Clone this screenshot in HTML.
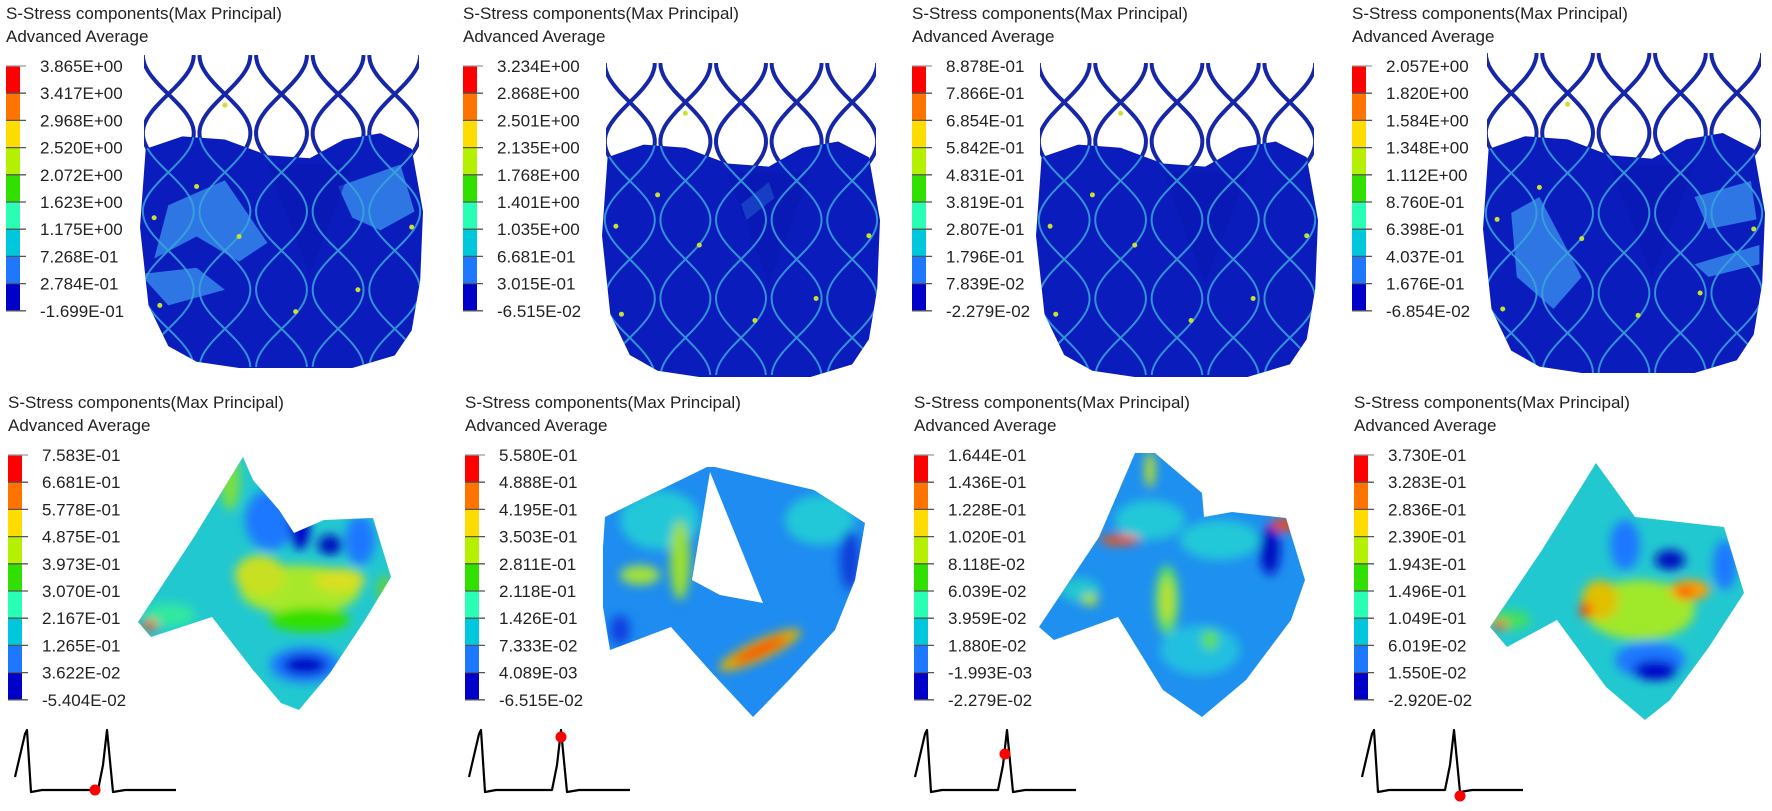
<!DOCTYPE html>
<html><head><meta charset="utf-8">
<style>
html,body{margin:0;padding:0;background:#fff;}
body{width:1772px;height:811px;overflow:hidden;position:relative;}
svg{position:absolute;left:0;top:0;}
text{font-family:"Liberation Sans","DejaVu Sans",sans-serif;fill:#222;}
</style></head><body>
<svg id="s" width="1772" height="811" viewBox="0 0 1772 811" xmlns="http://www.w3.org/2000/svg"></svg>
<script>
(function(){
var S=document.getElementById('s');var h='<defs><filter id="bl" x="-20%" y="-20%" width="140%" height="140%"><feGaussianBlur stdDeviation="5"/></filter></defs>';
var cols=['#ff0000','#ff7300','#ffdc00','#b4f000','#32e000','#28ffb4','#00c8dc','#1e78ff','#0000c8'];
function legend(x,y,labels){
 h+='<text x="'+x+'" y="'+(y-47)+'" font-size="17">S-Stress components(Max Principal)</text>';
 h+='<text x="'+x+'" y="'+(y-24)+'" font-size="17">Advanced Average</text>';
 var sp=27.2;
 for(var i=0;i<9;i++) h+='<rect x="'+x+'" y="'+(y+i*sp)+'" width="14" height="'+sp+'" fill="'+cols[i]+'"/>';
 for(var i=0;i<10;i++){
  h+='<line x1="'+x+'" x2="'+(x+20)+'" y1="'+(y+i*sp)+'" y2="'+(y+i*sp)+'" stroke="'+(i==0?'#999':'#555')+'" stroke-width="1.3"/>';
  h+='<text x="'+(x+34)+'" y="'+(y+i*sp+6)+'" font-size="17">'+labels[i]+'</text>';
 }
}
function P(x0,y0,w,hh,pts){return pts.map(function(p){return (x0+p[0]*w).toFixed(1)+','+(y0+p[1]*hh).toFixed(1);}).join(' ');}
var sid=0;
function stent(x0,y0,w,hh,patches){
 sid++;
 var b=[[.02,.3],[.15,.26],[.3,.27],[.45,.32],[.6,.33],[.72,.27],[.85,.25],[.96,.3],[1,.5],[.99,.72],[.96,.88],[.9,.96],[.75,1],[.35,1],[.2,.98],[.1,.93],[.03,.8],[0,.55]];
 var dark='',light='';
 var A=w*0.09, Pd=hh*0.5;
 for(var k=0;k<5;k++){
  var xc=x0+w*0.1+k*w*0.2;
  for(var s=-1;s<=1;s+=2){
   var pts=[];
   for(var yy=0;yy<=hh;yy+=4){pts.push((xc+s*A*Math.sin(2*Math.PI*(yy+Pd*0.25)/Pd)).toFixed(1)+','+(y0+yy).toFixed(1));}
   dark+='<polyline points="'+pts.join(' ')+'" fill="none" stroke="#1626a8" stroke-width="4"/>';
   light+='<polyline points="'+pts.join(' ')+'" fill="none" stroke="#3aa6dc" stroke-width="2"/>';
  }
 }
 h+='<clipPath id="so'+sid+'"><rect x="'+(x0+4)+'" y="'+y0+'" width="'+(w-8)+'" height="'+(hh*0.35)+'"/></clipPath>';
 h+='<g clip-path="url(#so'+sid+')">'+dark+'</g>';
 h+='<polygon points="'+P(x0,y0,w,hh,b)+'" fill="#0a1cbc"/>';
 h+='<clipPath id="sb'+sid+'"><polygon points="'+P(x0,y0,w,hh,b)+'"/></clipPath>';
 var g='';
 patches.forEach(function(p){g+='<polygon points="'+P(x0,y0,w,hh,p)+'" fill="#2d76e4"/>';});
 g+='<polygon points="'+P(x0,y0,w,hh,[[.45,.35],[.75,.35],[.6,.7]])+'" fill="#0818b0" opacity=".6"/>';
 h+='<g clip-path="url(#sb'+sid+')">'+g+'<g opacity=".85">'+light+'</g></g>';
 [[.05,.52],[.2,.42],[.35,.58],[.55,.82],[.77,.75],[.96,.55],[.3,.16],[.07,.8]].forEach(function(p){h+='<circle cx="'+(x0+p[0]*w)+'" cy="'+(y0+p[1]*hh)+'" r="2.5" fill="#c8e030"/>';});
}
function poly(pts){return pts.map(function(p){return p[0]+','+p[1];}).join(' ');}
var lid=0;
function leaf(outline,base,blobs,hole){
 lid++;
 h+='<clipPath id="lf'+lid+'"><polygon points="'+poly(outline)+'"/></clipPath>';
 var g='<rect x="0" y="430" width="1772" height="300" fill="'+base+'"/><g filter="url(#bl)">';
 blobs.forEach(function(o){g+='<ellipse cx="'+o[0]+'" cy="'+o[1]+'" rx="'+o[2]+'" ry="'+o[3]+'" fill="'+o[4]+'"'+(o[5]?' transform="rotate('+o[5]+' '+o[0]+' '+o[1]+')"':'')+'/>';});
 g+='</g>';
 h+='<g clip-path="url(#lf'+lid+')">'+g+'</g>';
 if(hole) h+='<polygon points="'+poly(hole)+'" fill="#fff"/>';
}
function ecg(x0,y0,dot){
 var pts=[[0,47],[10,4],[12,0],[16,62],[27,60],[83,60],[88,35],[92,0],[98,62],[110,60],[161,60]];
 h+='<polyline points="'+pts.map(function(p){return (x0+p[0])+','+(y0+p[1]);}).join(' ')+'" fill="none" stroke="#000" stroke-width="2.2" stroke-linejoin="round"/>';
 h+='<circle cx="'+(x0+dot[0])+'" cy="'+(y0+dot[1])+'" r="5.5" fill="#f00"/>';
}
var xs=[6,463,912,1352];
var TL=[["3.865E+00","3.417E+00","2.968E+00","2.520E+00","2.072E+00","1.623E+00","1.175E+00","7.268E-01","2.784E-01","-1.699E-01"],
["3.234E+00","2.868E+00","2.501E+00","2.135E+00","1.768E+00","1.401E+00","1.035E+00","6.681E-01","3.015E-01","-6.515E-02"],
["8.878E-01","7.866E-01","6.854E-01","5.842E-01","4.831E-01","3.819E-01","2.807E-01","1.796E-01","7.839E-02","-2.279E-02"],
["2.057E+00","1.820E+00","1.584E+00","1.348E+00","1.112E+00","8.760E-01","6.398E-01","4.037E-01","1.676E-01","-6.854E-02"]];
var BL=[["7.583E-01","6.681E-01","5.778E-01","4.875E-01","3.973E-01","3.070E-01","2.167E-01","1.265E-01","3.622E-02","-5.404E-02"],
["5.580E-01","4.888E-01","4.195E-01","3.503E-01","2.811E-01","2.118E-01","1.426E-01","7.333E-02","4.089E-03","-6.515E-02"],
["1.644E-01","1.436E-01","1.228E-01","1.020E-01","8.118E-02","6.039E-02","3.959E-02","1.880E-02","-1.993E-03","-2.279E-02"],
["3.730E-01","3.283E-01","2.836E-01","2.390E-01","1.943E-01","1.496E-01","1.049E-01","6.019E-02","1.550E-02","-2.920E-02"]];
var patchA=[[[.1,.48],[.3,.4],[.45,.6],[.35,.66],[.2,.58],[.05,.65]],[[.7,.42],[.92,.35],[.97,.5],[.85,.56],[.75,.52]],[[.0,.7],[.2,.68],[.3,.75],[.1,.8]]];
var patchB=[[[.5,.45],[.6,.38],[.62,.43],[.52,.5]]];
var patchD=[[[.1,.5],[.2,.45],[.35,.7],[.25,.8],[.12,.7]],[[.75,.45],[.95,.4],[.97,.52],[.8,.55]],[[.75,.66],[.98,.6],[.98,.66],[.8,.7]]];
var stents=[[140,55,283,313,patchA],[602,63,278,314,patchB],[1036,63,282,314,[]],[1483,53,282,320,patchD]];
var ecgx=[15,469,915,1362];
var dots=[[80,60],[92,7],[90,24],[98,66]];
for(var c=0;c<4;c++){
 legend(xs[c],66,TL[c]);
 legend(xs[c]+2,455,BL[c]);
 stent(stents[c][0],stents[c][1],stents[c][2],stents[c][3],stents[c][4]);
 ecg(ecgx[c],730,dots[c]);
}
leaf([[138,622],[194,537],[243,457],[253,480],[279,510],[294,533],[324,520],[373,518],[391,577],[365,620],[330,673],[299,710],[281,703],[253,670],[212,617],[151,637]],'#22c8d0',
 [[300,590,60,25,'#a8e82a'],[260,575,25,20,'#c8e020'],[340,580,25,12,'#d8e020'],[310,620,40,12,'#32e000'],[305,665,35,18,'#1e78ff'],[305,665,22,10,'#0000c8'],[270,520,25,30,'#1e78ff'],[300,525,10,25,'#0000c8'],[330,545,12,10,'#0010c0'],[230,480,10,30,'#7ae040'],[170,615,25,12,'#30e8a0'],[150,625,8,5,'#ff4000'],[360,540,15,25,'#1e78ff'],[385,590,8,15,'#60d040']]);
leaf([[605,517],[707,467],[715,467],[814,490],[865,523],[855,580],[835,630],[789,680],[753,717],[712,673],[671,627],[610,650],[603,607],[603,547]],'#1e8cf0',
 [[660,520,40,30,'#20c8d8'],[680,560,10,40,'#9ae030'],[640,575,20,10,'#a0e040'],[820,520,35,25,'#20c8d8'],[760,650,45,10,'#e0b000',-25],[760,650,30,5,'#ff3000',-25],[620,630,10,15,'#1040e0'],[850,560,10,30,'#1040d8'],[700,700,30,15,'#30b0e8']],
 [[710,472],[763,603],[720,595],[692,580],[702,520]]);
leaf([[1039,627],[1099,537],[1135,453],[1155,453],[1202,493],[1204,517],[1232,512],[1286,518],[1305,580],[1291,620],[1246,680],[1202,717],[1163,690],[1118,617],[1054,640]],'#1e90f0',
 [[1167,600,12,35,'#60e060'],[1167,600,6,22,'#c0e020'],[1150,520,35,20,'#20c8d8'],[1220,540,40,20,'#20c8d8'],[1080,590,20,12,'#20c8d0'],[1090,600,8,6,'#b0e020'],[1200,650,40,25,'#20c0e0'],[1210,640,8,10,'#60e040'],[1270,550,10,25,'#0010c0'],[1285,525,15,6,'#ff4000'],[1120,540,20,5,'#ff5000'],[1150,470,5,18,'#c0e020']]);
leaf([[1490,627],[1542,550],[1596,463],[1635,517],[1724,527],[1744,593],[1709,647],[1670,700],[1645,720],[1606,687],[1557,620],[1507,647]],'#22c8d0',
 [[1640,610,55,30,'#a0e82a'],[1600,600,18,20,'#e0c000'],[1586,610,6,8,'#ff4000'],[1690,590,20,10,'#ffa000'],[1685,593,8,5,'#ff3000'],[1650,660,35,18,'#1e78ff'],[1655,670,22,10,'#0000c8'],[1625,545,15,25,'#1e78ff'],[1670,560,15,10,'#0010c0'],[1510,620,20,10,'#40e060'],[1500,625,8,4,'#ff3000'],[1725,565,12,25,'#1e78ff']]);
S.innerHTML=h;
})();
</script>
</body></html>
